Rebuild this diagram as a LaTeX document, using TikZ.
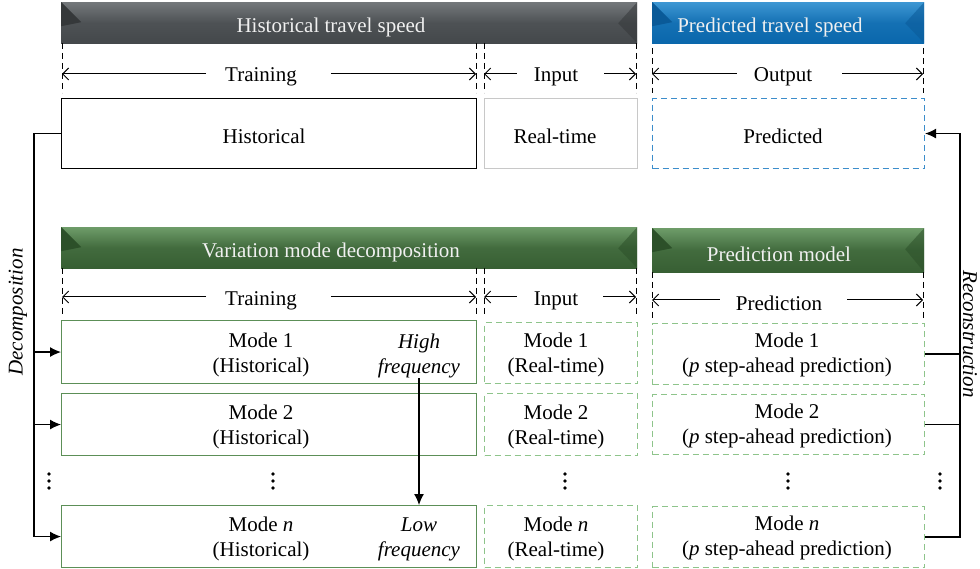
\documentclass[tikz,border=0pt]{standalone}
\usepackage{fontspec}
\setmainfont{Liberation Serif}
\usetikzlibrary{arrows.meta}
\definecolor{graymain}{HTML}{44484B}
\definecolor{graylight}{HTML}{74787B}
\definecolor{graydark}{HTML}{35383A}
\definecolor{bluemain}{HTML}{0A67AC}
\definecolor{bluelight}{HTML}{3E97D3}
\definecolor{bluedark}{HTML}{0A5A98}
\definecolor{greenmain}{HTML}{375F33}
\definecolor{greenlight}{HTML}{6E9C69}
\definecolor{greendark}{HTML}{2C5029}
\definecolor{boxgreen}{HTML}{5C8F57}
\definecolor{dashgreen}{HTML}{8EC48B}
\definecolor{dashblue}{HTML}{3C8DCB}
\definecolor{rtgray}{HTML}{C8C8C8}
\newcommand{\bodyfont}{\fontsize{21}{25}\selectfont}
\tikzset{
  hdr/.style n args={3}{draw=none, inner sep=0pt, anchor=north west,
    path picture={
      \shade[top color=#2, bottom color=#1, middle color=#1!80!#2]
        (path picture bounding box.north west) rectangle (path picture bounding box.south east);
      \fill[#3] (path picture bounding box.north west) -- ++(20pt,-20pt) -- ++(-20pt,-4pt) -- cycle;
      \fill[#3, opacity=0.55] (path picture bounding box.north east) -- ++(-19pt,-21pt)
        -- (path picture bounding box.south east) -- cycle;
    }},
  hdrtext/.style={text=white!94!black, font=\bodyfont, inner sep=0pt, yshift=-2.5pt},
  txt/.style={font=\bodyfont, align=center, inner sep=0pt, yshift=-2pt},
  frame/.style={draw, line width=1.1pt, anchor=north west, inner sep=0pt},
  gbox/.style={frame, draw=boxgreen},
  gdash/.style={frame, draw=dashgreen, dash pattern=on 6pt off 4pt},
  guide/.style={line width=1pt, dash pattern=on 6pt off 4pt},
  dim/.style={line width=1pt, -{Straight Barb[length=6pt,width=12pt]}},
  conn/.style={line width=1.2pt},
  arr/.style={line width=1.2pt, -{Latex[length=11pt,width=10pt]}},
  dotn/.style={circle, fill=black, inner sep=0pt, minimum size=3.6pt}
}
\begin{document}
\begin{tikzpicture}[x=1pt,y=-1pt]
\useasboundingbox (0,0) rectangle (980,569);
% ---------- top section ----------
\node[hdr={graymain}{graylight}{graydark}, minimum width=576pt, minimum height=41pt] (hts) at (61,2) {};
\node[hdrtext] (htsT) at (331,25) {Historical travel speed};
\node[hdr={bluemain}{bluelight}{bluedark}, minimum width=272pt, minimum height=41pt] (pts) at (652,2) {};
\node[hdrtext] (ptsT) at (770,25) {Predicted travel speed};

\foreach \xx in {62,476,484,636} {\draw[guide] (\xx,43) -- (\xx,93);}
\foreach \xx in {652,923} {\draw[guide] (\xx,48) -- (\xx,93);}

\node[txt] (tr1) at (261,75) {Training};
\coordinate (tr1L) at (62,74); \coordinate (tr1R) at (476,74);
\draw[dim] (tr1.west |- tr1L) ++(-19pt,0) -- (tr1L);
\draw[dim] (tr1.east |- tr1R) ++(34pt,0) -- (tr1R);
\node[txt] (in1) at (556,75) {Input};
\coordinate (in1L) at (484,74); \coordinate (in1R) at (636,74);
\draw[dim] (in1.west |- in1L) ++(-17pt,0) -- (in1L);
\draw[dim] (in1.east |- in1R) ++(26pt,0) -- (in1R);
\node[txt] (out1) at (783,75) {Output};
\coordinate (out1L) at (652,74); \coordinate (out1R) at (923,74);
\draw[dim] (out1.west |- out1L) ++(-17pt,0) -- (out1L);
\draw[dim] (out1.east |- out1R) ++(30pt,0) -- (out1R);

\node[frame, draw=black, minimum width=415pt, minimum height=70pt] (hist) at (61,98) {};
\node[txt] (histT) at (264,134) {Historical};
\node[frame, draw=rtgray, minimum width=153pt, minimum height=70pt] (rt) at (484,98) {};
\node[txt] (rtT) at (555,134) {Real-time};
\node[frame, draw=dashblue, dash pattern=on 6pt off 4pt, minimum width=272pt, minimum height=70pt] (pred) at (652,98) {};
\node[txt] (predT) at (783,134) {Predicted};

% ---------- lower section ----------
\node[hdr={greenmain}{greenlight}{greendark}, minimum width=576pt, minimum height=41pt] (vmd) at (61,227) {};
\node[hdrtext] (vmdT) at (331,250) {Variation mode decomposition};
\node[hdr={greenmain}{greenlight}{greendark}, minimum width=272pt, minimum height=44pt] (pm) at (652,228) {};
\node[hdrtext] (pmT) at (779,252) {Prediction model};

\foreach \xx in {62,476,484,636} {\draw[guide] (\xx,268) -- (\xx,317);}
\foreach \xx in {652,923} {\draw[guide] (\xx,272) -- (\xx,320);}

\node[txt] (tr2) at (261,299) {Training};
\coordinate (tr2L) at (62,297); \coordinate (tr2R) at (476,297);
\draw[dim] (tr2.west |- tr2L) ++(-19pt,0) -- (tr2L);
\draw[dim] (tr2.east |- tr2R) ++(34pt,0) -- (tr2R);
\node[txt] (in2) at (556,299) {Input};
\coordinate (in2L) at (484,297); \coordinate (in2R) at (636,297);
\draw[dim] (in2.west |- in2L) ++(-17pt,0) -- (in2L);
\draw[dim] (in2.east |- in2R) ++(25pt,0) -- (in2R);
\node[txt] (pr2) at (779,301) {Prediction};
\coordinate (pr2L) at (652,300); \coordinate (pr2R) at (923,300);
\draw[dim] (pr2.west |- pr2L) ++(-16pt,0) -- (pr2L);
\draw[dim] (pr2.east |- pr2R) ++(25pt,0) -- (pr2R);

% historical modes
\node[gbox, minimum width=415pt, minimum height=63pt] (h1) at (61,320) {};
\node[txt] (h1T) at (261,353) {Mode 1\\(Historical)};
\node[gbox, minimum width=415pt, minimum height=62pt] (h2) at (61,393) {};
\node[txt] (h2T) at (261,425) {Mode 2\\(Historical)};
\node[gbox, minimum width=415pt, minimum height=62pt] (h3) at (61,505) {};
\node[txt] (h3T) at (261,537) {Mode \textit{n}\\(Historical)};
\node[txt, font=\bodyfont\itshape] (hf) at (419,354) {High\\frequency};
\node[txt, font=\bodyfont\itshape] (lf) at (419,537) {Low\\frequency};

% real-time modes
\node[gdash, minimum width=153pt, minimum height=61pt] (r1) at (484,322) {};
\node[txt] (r1T) at (556,353) {Mode 1\\(Real-time)};
\node[gdash, minimum width=153pt, minimum height=62pt] (r2) at (484,393) {};
\node[txt] (r2T) at (556,425) {Mode 2\\(Real-time)};
\node[gdash, minimum width=153pt, minimum height=62pt] (r3) at (484,505) {};
\node[txt] (r3T) at (556,537) {Mode \textit{n}\\(Real-time)};

% prediction modes
\node[gdash, minimum width=272pt, minimum height=61pt] (p1) at (652,323) {};
\node[txt] (p1T) at (787,353) {Mode 1\\(\textit{p} step-ahead prediction)};
\node[gdash, minimum width=272pt, minimum height=60pt] (p2) at (652,394) {};
\node[txt] (p2T) at (787,424) {Mode 2\\(\textit{p} step-ahead prediction)};
\node[gdash, minimum width=272pt, minimum height=61pt] (p3) at (652,506) {};
\node[txt] (p3T) at (787,536) {Mode \textit{n}\\(\textit{p} step-ahead prediction)};

% vertical dots
\foreach \xx/\nm in {49/da,273/db,565/dc,788/dd,940/de} {
  \node[dotn] (\nm1) at (\xx,474) {};
  \node[dotn] (\nm2) at (\xx,481) {};
  \node[dotn] (\nm3) at (\xx,488) {};
}

% decomposition connector
\coordinate (dl) at (34,0);
\draw[conn] (hist.west) -| (h3.west -| dl);
\draw[arr] (h1.west -| dl) -- (h1.west);
\draw[arr] (h2.west -| dl) -- (h2.west);
\draw[arr] (h3.west -| dl) -- (h3.west);
\node[txt, font=\bodyfont\itshape, rotate=90, yshift=0pt] (dec) at (18,310) {Decomposition};

% reconstruction connector
\coordinate (dr) at (960,0);
\draw[arr] (p3.east) -| (pred.east -| dr) -- (pred.east);
\draw[conn] (p1.east) -- (p1.east -| dr);
\draw[conn] (p2.east) -- (p2.east -| dr);
\node[txt, font=\bodyfont\itshape, rotate=-90] (rec) at (970,332) {Reconstruction};

% frequency arrow
\draw[arr] (hf.south) -- (hf.south |- h3.north);
\end{tikzpicture}
\end{document}
